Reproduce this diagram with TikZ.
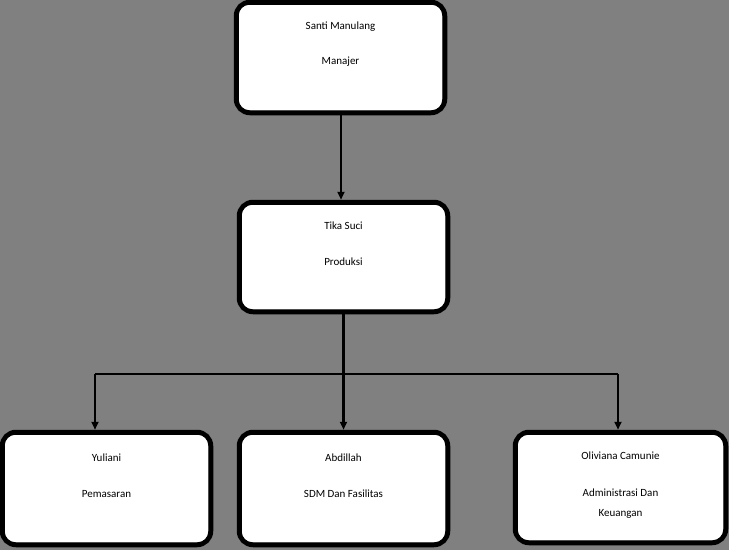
\documentclass[tikz,border=0pt]{standalone}
\usepackage{fontspec}
\setmainfont{Carlito}
\usetikzlibrary{arrows.meta,calc}
\begin{document}
\begin{tikzpicture}[x=1pt,y=-1pt,
  box/.style={draw=black,fill=white,line width=4.5,rounded corners=14,inner sep=0,align=center,font=\fontsize{11}{11}\selectfont},
  conn/.style={line width=2.2,-{Triangle[length=8,width=7]}},
  line/.style={line width=2.2}]
\fill[gray!100!black,fill={rgb,255:red,128;green,128;blue,128}] (0,0) rectangle (729,550);
\useasboundingbox (0,0) rectangle (729,550);
\node[box,minimum width=209,minimum height=111] (m) at (340.5,57.5) {};
\node[box,minimum width=209,minimum height=110] (p) at (343.5,257) {};
\node[box,minimum width=209,minimum height=113] (y) at (106.5,488.5) {};
\node[box,minimum width=209,minimum height=113] (a) at (343.5,488.5) {};
\node[box,minimum width=211,minimum height=111] (o) at (620.5,487.5) {};
\foreach \n in {m,p,y,a,o}{
  \draw[line width=1,rounded corners=11] ($(\n.north west)+(4.5,4.5)$) rectangle ($(\n.south east)+(-4.5,-4.5)$);}
\begin{scope}[font=\fontsize{11}{11}\selectfont]
\node (t1) at (340.5,27) {Santi Manulang};
\node (t2) at (340.5,62) {Manajer};
\node (t3) at (343.5,226) {Tika Suci};
\node (t4) at (343.5,262) {Produksi};
\node (t5) at (106.5,458) {Yuliani};
\node (t6) at (106.5,494) {Pemasaran};
\node (t7) at (343.5,458) {Abdillah};
\node (t8) at (343.5,494) {SDM Dan Fasilitas};
\node (t9) at (620.5,456) {Oliviana Camunie};
\node (t10) at (620.5,493) {Administrasi Dan};
\node (t11) at (620.5,514) {Keuangan};
\end{scope}
\coordinate (l) at (95,374);
\coordinate (r) at (618,374);
\draw[conn] (m.south -| 341,0) -- (p.north -| 341,0);
\draw[conn] (p.south) -- (a.north);
\draw[line] (l) -- (r);
\draw[conn] (l) -- (l |- y.north);
\draw[conn] (r) -- (r |- o.north);
\end{tikzpicture}
\end{document}
